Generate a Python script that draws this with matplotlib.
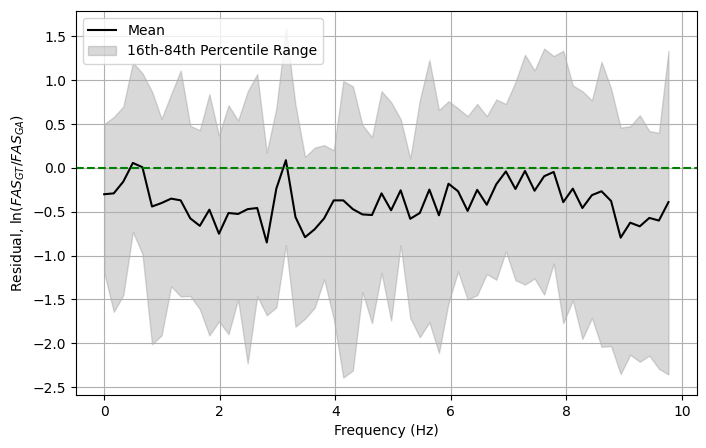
import numpy as np
import matplotlib
matplotlib.use('Agg')
import matplotlib.pyplot as plt

# frequency samples (60 evenly spaced bins up to ~9.77 Hz)
freq = np.linspace(0, 9.77, 60)

mean_resid = [-0.30, -0.29, -0.156, 0.057, 0.008, -0.44, -0.40, -0.35, -0.37, -0.575,
              -0.66, -0.476, -0.75, -0.514, -0.525, -0.47, -0.457, -0.85, -0.236, 0.088,
              -0.56, -0.79, -0.70, -0.575, -0.37, -0.37, -0.47, -0.53, -0.537, -0.29,
              -0.483, -0.255, -0.58, -0.514, -0.247, -0.54, -0.18, -0.266, -0.49, -0.25,
              -0.42, -0.186, -0.04, -0.24, -0.034, -0.26, -0.095, -0.046, -0.39, -0.236,
              -0.457, -0.31, -0.266, -0.377, -0.795, -0.624, -0.666, -0.57, -0.60, -0.39]

p84 = [0.50, 0.58, 0.70, 1.20, 1.08, 0.87, 0.56, 0.84, 1.11, 0.48,
       0.43, 0.84, 0.37, 0.715, 0.54, 0.87, 1.07, 0.175, 0.68, 1.59,
       0.72, 0.125, 0.23, 0.26, 0.20, 0.99, 0.93, 0.49, 0.35, 0.875,
       0.75, 0.555, 0.107, 0.77, 1.23, 0.66, 0.76, 0.68, 0.59, 0.73,
       0.59, 0.78, 0.73, 0.98, 1.29, 1.11, 1.36, 1.275, 1.335, 0.94,
       0.875, 0.77, 1.21, 0.905, 0.46, 0.475, 0.60, 0.42, 0.40, 1.335]

p16 = [-1.19, -1.64, -1.45, -0.73, -0.98, -2.01, -1.91, -1.35, -1.465, -1.46,
       -1.61, -1.91, -1.75, -1.895, -1.50, -2.23, -1.46, -1.68, -1.59, -0.88,
       -1.81, -1.72, -1.595, -1.27, -1.72, -2.39, -2.31, -1.415, -1.77, -1.195,
       -1.74, -0.88, -1.71, -1.93, -1.76, -2.11, -1.54, -1.18, -1.50, -1.45,
       -1.21, -1.275, -0.95, -1.28, -1.33, -1.26, -1.445, -1.09, -1.77, -1.51,
       -1.95, -1.71, -2.04, -2.03, -2.35, -2.13, -2.21, -2.14, -2.29, -2.355]

fig, ax = plt.subplots(figsize=(7.06, 4.48), dpi=100)
fig.subplots_adjust(left=0.1076, right=0.9868, top=0.9754, bottom=0.1183)

ax.plot(freq, mean_resid, color='black', label='Mean')
ax.fill_between(freq, p16, p84, color='gray', alpha=0.3, label='16th-84th Percentile Range')
ax.axhline(0, color='green', linestyle='--')

ax.set_xlabel('Frequency (Hz)')
ax.set_ylabel(r'Residual, $\ln(FAS_{GT}/FAS_{GA})$')
ax.legend(loc='upper left')
ax.grid(True)

fig.savefig('out.png', dpi=100)
